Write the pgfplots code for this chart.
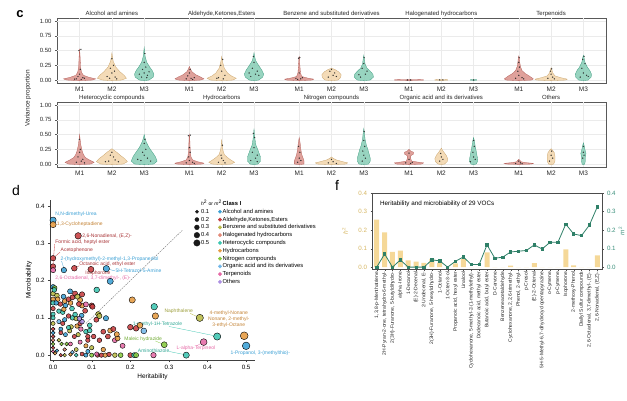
\documentclass[border=0pt]{standalone}
\usepackage{fontspec}
\setmainfont{Liberation Sans}
\usepackage{pgfplots}
\pgfplotsset{compat=1.18}
\newcommand{\fs}[1]{\fontsize{#1}{#1}\selectfont}
\definecolor{m1f}{HTML}{D9918A}\definecolor{m1d}{HTML}{B4605A}
\definecolor{m2f}{HTML}{F2D5AA}\definecolor{m2d}{HTML}{C9A46E}
\definecolor{m3f}{HTML}{86CDB5}\definecolor{m3d}{HTML}{3E9C80}
\definecolor{cA}{HTML}{3A9FD4}\definecolor{cB}{HTML}{C63C3F}
\definecolor{cC}{HTML}{B8BA45}\definecolor{cD}{HTML}{E38A78}
\definecolor{cE}{HTML}{3CC5B1}\definecolor{cF}{HTML}{E59A40}
\definecolor{cG}{HTML}{85C93E}\definecolor{cH}{HTML}{72B7E8}
\definecolor{cI}{HTML}{E56AA6}\definecolor{cJ}{HTML}{AC8FE2}
\definecolor{barc}{HTML}{F5D898}\definecolor{hcol}{HTML}{D6B662}
\definecolor{linec}{HTML}{2F8068}\definecolor{mcol}{HTML}{3B8F7B}
\tikzset{vtitle/.style={anchor=base, font=\fs{6}, text=black!85, inner sep=0pt, yshift=2.2pt}}
\pgfplotsset{
 every axis/.append style={/pgf/number format/assume math mode=true},
 vframe/.style={anchor=south west, scale only axis, width=549pt, height=64.9pt, xmin=0, xmax=1, ymin=-0.05, ymax=1.05,
   xtick=\empty, ytick={0,0.25,0.5,0.75,1}, yticklabels={0.00,0.25,0.50,0.75,1.00}, ytick pos=left,
   axis line style={black!65, line width=0.6pt}, tick align=outside, major tick length=2pt, tick style={black!65},
   yticklabel style={font=\fs{6}, text=black!85}},
 vpanel/.style={anchor=south west, scale only axis, width=109.8pt, height=64.9pt, xmin=0.3, xmax=3.7, ymin=-0.05, ymax=1.05,
   axis line style={draw=none}, xtick={1,2,3}, xticklabels={M1,M2,M3}, ytick={0,0.25,0.5,0.75,1}, yticklabels={{},{},{},{},{}},
   grid=major, major grid style={black!8, line width=0.35pt}, major tick length=0pt, clip mode=individual,
   xticklabel style={font=\fs{6.5}, text=black!85}},
 v1/.style={x filter/.expression={x+1}, fill=m1f, draw=m1d, line width=0.3pt, fill opacity=0.85},
 v2/.style={x filter/.expression={x+2}, fill=m2f, draw=m2d, line width=0.3pt, fill opacity=0.85},
 v3/.style={x filter/.expression={x+3}, fill=m3f, draw=m3d, line width=0.3pt, fill opacity=0.85},
 vpts/.style={only marks, mark=*, mark size=0.45pt, black!85, fill opacity=0.8, draw opacity=0.8},
}
\begin{document}
\begin{tikzpicture}
\path[use as bounding box] (0,0) rectangle (627pt,400pt);
\node[font=\bfseries\fs{13}] at (20pt,386pt) {c};
\node[font=\fs{14}] at (16pt,210pt) {d};
\node[font=\fs{14}] at (337pt,215pt) {f};
\node[rotate=90, font=\fs{6.5}, text=black!85] at (28pt,302pt) {Variance proportion};
% ---------- row 1 ----------
\begin{axis}[vframe, at={(57pt,317pt)}]
\end{axis}
\begin{axis}[vpanel, at={(57pt,317pt)}]
\addplot[v1] coordinates {(0,-0.01)(0.4,0)(0.5,0.02)(0.3,0.045)(0.12,0.08)(0.06,0.13)(0.03,0.22)(0.015,0.4)(0,0.53)(-0.015,0.4)(-0.03,0.22)(-0.06,0.13)(-0.12,0.08)(-0.3,0.045)(-0.5,0.02)(-0.4,0)} --cycle;
\addplot[v2] coordinates {(0,-0.01)(0.3,0)(0.45,0.03)(0.38,0.08)(0.25,0.14)(0.12,0.22)(0.04,0.32)(0.015,0.4)(0,0.46)(-0.015,0.4)(-0.04,0.32)(-0.12,0.22)(-0.25,0.14)(-0.38,0.08)(-0.45,0.03)(-0.3,0)} --cycle;
\addplot[v3] coordinates {(0,-0.01)(0.15,0)(0.28,0.05)(0.3,0.1)(0.25,0.16)(0.17,0.22)(0.08,0.3)(0.03,0.4)(0,0.55)(-0.03,0.4)(-0.08,0.3)(-0.17,0.22)(-0.25,0.16)(-0.3,0.1)(-0.28,0.05)(-0.15,0)} --cycle;
\addplot[vpts] coordinates {(0.9,0.02)(1.05,0.01)(1.1,0.04)(0.95,0.06)(1,0.1)(1.02,0.18)(0.98,0.5)(1.04,0.52)(0.85,0.015)(1.15,0.03)(1.93,0.03)(2.1,0.05)(2,0.12)(1.95,0.2)(2.05,0.25)(2,0.36)(1.85,0.06)(2.15,0.02)(2.08,0.15)(2.92,0.05)(3.1,0.08)(3,0.12)(2.95,0.18)(3.05,0.22)(3,0.3)(3.02,0.45)(2.85,0.1)(3.15,0.14)(3.08,0.04)};
\node[vtitle] at (rel axis cs:0.5,1) {Alcohol and amines};
\end{axis}
\begin{axis}[vpanel, at={(166.8pt,317pt)}]
\addplot[v1] coordinates {(0,-0.01)(0.35,0)(0.45,0.02)(0.35,0.05)(0.2,0.09)(0.08,0.14)(0.03,0.19)(0,0.23)(-0.03,0.19)(-0.08,0.14)(-0.2,0.09)(-0.35,0.05)(-0.45,0.02)(-0.35,0)} --cycle;
\addplot[v2] coordinates {(0,-0.01)(0.35,0)(0.45,0.03)(0.3,0.07)(0.18,0.12)(0.08,0.2)(0.03,0.3)(0,0.4)(-0.03,0.3)(-0.08,0.2)(-0.18,0.12)(-0.3,0.07)(-0.45,0.03)(-0.35,0)} --cycle;
\addplot[v3] coordinates {(0,-0.01)(0.15,0)(0.27,0.05)(0.3,0.1)(0.24,0.17)(0.14,0.25)(0.05,0.33)(0.02,0.4)(0,0.46)(-0.02,0.4)(-0.05,0.33)(-0.14,0.25)(-0.24,0.17)(-0.3,0.1)(-0.27,0.05)(-0.15,0)} --cycle;
\addplot[vpts] coordinates {(0.9,0.02)(1.05,0.03)(1.1,0.01)(0.95,0.07)(1,0.12)(1.02,0.18)(1.15,0.04)(1.9,0.04)(2.05,0.02)(2.1,0.08)(2,0.15)(1.97,0.25)(2.03,0.35)(1.85,0.03)(2.9,0.06)(3.05,0.1)(3.1,0.15)(2.95,0.2)(3,0.3)(2.98,0.4)(3.15,0.08)(2.85,0.12)};
\node[vtitle] at (rel axis cs:0.5,1) {Aldehyde,Ketones,Esters};
\end{axis}
\begin{axis}[vpanel, at={(276.6pt,317pt)}]
\addplot[v1] coordinates {(0,-0.01)(0.4,0)(0.45,0.015)(0.25,0.035)(0.08,0.06)(0.04,0.12)(0.02,0.25)(0.01,0.38)(0,0.4)(-0.01,0.38)(-0.02,0.25)(-0.04,0.12)(-0.08,0.06)(-0.25,0.035)(-0.45,0.015)(-0.4,0)} --cycle;
\addplot[v2] coordinates {(0,-0.01)(0.2,0)(0.28,0.04)(0.3,0.09)(0.22,0.14)(0.1,0.18)(0,0.2)(-0.1,0.18)(-0.22,0.14)(-0.3,0.09)(-0.28,0.04)(-0.2,0)} --cycle;
\addplot[v3] coordinates {(0,-0.01)(0.2,0)(0.3,0.05)(0.28,0.1)(0.2,0.15)(0.1,0.2)(0.04,0.27)(0.02,0.35)(0,0.42)(-0.02,0.35)(-0.04,0.27)(-0.1,0.2)(-0.2,0.15)(-0.28,0.1)(-0.3,0.05)(-0.2,0)} --cycle;
\addplot[vpts] coordinates {(0.95,0.01)(1.05,0.02)(1.1,0.04)(0.9,0.03)(1,0.12)(0.98,0.37)(1.02,0.38)(1.9,0.05)(2.05,0.08)(2.1,0.12)(1.95,0.15)(2,0.18)(2.15,0.06)(2.9,0.05)(3.05,0.1)(3.1,0.15)(2.95,0.2)(3,0.28)(3.01,0.38)(2.85,0.09)};
\node[vtitle] at (rel axis cs:0.5,1) {Benzene and substituted derivatives};
\end{axis}
\begin{axis}[vpanel, at={(386.4pt,317pt)}]
\addplot[v1] coordinates {(0,-0.006)(0.45,-0.002)(0.45,0.006)(0,0.01)(-0.45,0.006)(-0.45,-0.002)} --cycle;
\addplot[v2] coordinates {(0,-0.006)(0.2,-0.002)(0.2,0.006)(0,0.01)(-0.2,0.006)(-0.2,-0.002)} --cycle;
\addplot[v3] coordinates {(0,-0.006)(0.1,-0.002)(0.1,0.006)(0,0.01)(-0.1,0.006)(-0.1,-0.002)} --cycle;
\addplot[vpts] coordinates {(0.95,0.002)(1.05,0.002)(1.95,0.002)(2.05,0.002)(3,0.002)};
\node[vtitle] at (rel axis cs:0.5,1) {Halogenated hydrocarbons};
\end{axis}
\begin{axis}[vpanel, at={(496.2pt,317pt)}]
\addplot[v1] coordinates {(0,-0.01)(0.4,0)(0.45,0.02)(0.32,0.07)(0.2,0.11)(0.1,0.16)(0.05,0.23)(0.03,0.3)(0.015,0.38)(0,0.41)(-0.015,0.38)(-0.03,0.3)(-0.05,0.23)(-0.1,0.16)(-0.2,0.11)(-0.32,0.07)(-0.45,0.02)(-0.4,0)} --cycle;
\addplot[v2] coordinates {(0,-0.01)(0.45,0)(0.5,0.015)(0.3,0.04)(0.12,0.07)(0.05,0.12)(0.02,0.18)(0,0.21)(-0.02,0.18)(-0.05,0.12)(-0.12,0.07)(-0.3,0.04)(-0.5,0.015)(-0.45,0)} --cycle;
\addplot[v3] coordinates {(0,-0.01)(0.15,0)(0.24,0.05)(0.25,0.1)(0.2,0.16)(0.12,0.22)(0.05,0.3)(0.02,0.38)(0,0.42)(-0.02,0.38)(-0.05,0.3)(-0.12,0.22)(-0.2,0.16)(-0.25,0.1)(-0.24,0.05)(-0.15,0)} --cycle;
\addplot[vpts] coordinates {(0.9,0.03)(1.1,0.04)(1,0.08)(0.97,0.15)(1.02,0.22)(1,0.3)(1.01,0.38)(1.15,0.02)(1.9,0.03)(2.05,0.05)(2.1,0.02)(2,0.1)(1.98,0.15)(2.02,0.19)(2.9,0.05)(3.1,0.08)(3,0.12)(2.95,0.2)(3.05,0.28)(2.98,0.35)(3.02,0.4)(3.15,0.06)};
\node[vtitle] at (rel axis cs:0.5,1) {Terpenoids};
\end{axis}
% ---------- row 2 ----------
\begin{axis}[vframe, at={(57pt,233pt)}]
\end{axis}
\begin{axis}[vpanel, at={(57pt,233pt)}]
\addplot[v1] coordinates {(0,-0.01)(0.35,0)(0.45,0.03)(0.3,0.07)(0.18,0.11)(0.12,0.16)(0.08,0.22)(0.04,0.32)(0.015,0.42)(0,0.5)(-0.015,0.42)(-0.04,0.32)(-0.08,0.22)(-0.12,0.16)(-0.18,0.11)(-0.3,0.07)(-0.45,0.03)(-0.35,0)} --cycle;
\addplot[v2] coordinates {(0,-0.01)(0.35,0)(0.48,0.04)(0.4,0.09)(0.28,0.14)(0.15,0.2)(0.05,0.24)(0,0.26)(-0.05,0.24)(-0.15,0.2)(-0.28,0.14)(-0.4,0.09)(-0.48,0.04)(-0.35,0)} --cycle;
\addplot[v3] coordinates {(0,-0.01)(0.3,0)(0.4,0.05)(0.35,0.12)(0.28,0.18)(0.2,0.24)(0.13,0.3)(0.06,0.38)(0.02,0.45)(0,0.5)(-0.02,0.45)(-0.06,0.38)(-0.13,0.3)(-0.2,0.24)(-0.28,0.18)(-0.35,0.12)(-0.4,0.05)(-0.3,0)} --cycle;
\addplot[vpts] coordinates {(0.9,0.03)(1.05,0.05)(1.1,0.08)(0.95,0.12)(1,0.2)(1.02,0.25)(0.99,0.42)(1.15,0.02)(1.9,0.05)(2.1,0.07)(2.05,0.12)(1.95,0.15)(2,0.2)(2.2,0.04)(1.8,0.04)(2.9,0.06)(3.1,0.1)(3,0.15)(2.95,0.2)(3.05,0.25)(3,0.35)(3.02,0.42)(2.8,0.08)(3.2,0.05)};
\node[vtitle] at (rel axis cs:0.5,1) {Heterocyclic compounds};
\end{axis}
\begin{axis}[vpanel, at={(166.8pt,233pt)}]
\addplot[v1] coordinates {(0,-0.01)(0.4,0)(0.45,0.015)(0.25,0.04)(0.1,0.07)(0.05,0.12)(0.03,0.2)(0.02,0.3)(0.01,0.45)(0,0.5)(-0.01,0.45)(-0.02,0.3)(-0.03,0.2)(-0.05,0.12)(-0.1,0.07)(-0.25,0.04)(-0.45,0.015)(-0.4,0)} --cycle;
\addplot[v2] coordinates {(0,-0.01)(0.3,0)(0.4,0.03)(0.28,0.07)(0.18,0.11)(0.08,0.16)(0.03,0.25)(0.01,0.35)(0,0.42)(-0.01,0.35)(-0.03,0.25)(-0.08,0.16)(-0.18,0.11)(-0.28,0.07)(-0.4,0.03)(-0.3,0)} --cycle;
\addplot[v3] coordinates {(0,-0.01)(0.12,0)(0.2,0.05)(0.2,0.12)(0.16,0.18)(0.12,0.24)(0.06,0.32)(0.03,0.42)(0.01,0.52)(0,0.6)(-0.01,0.52)(-0.03,0.42)(-0.06,0.32)(-0.12,0.24)(-0.16,0.18)(-0.2,0.12)(-0.2,0.05)(-0.12,0)} --cycle;
\addplot[vpts] coordinates {(0.9,0.02)(1.1,0.03)(1,0.06)(0.98,0.12)(1.02,0.2)(1,0.28)(0.97,0.48)(1.03,0.49)(1.15,0.01)(1.9,0.03)(2.05,0.06)(2.1,0.02)(2,0.1)(1.98,0.15)(2.02,0.32)(2.9,0.06)(3.05,0.1)(3.1,0.15)(2.95,0.2)(3,0.28)(3.02,0.45)(2.98,0.52)(3.1,0.04)};
\node[vtitle] at (rel axis cs:0.5,1) {Hydrocarbons};
\end{axis}
\begin{axis}[vpanel, at={(276.6pt,233pt)}]
\addplot[v1] coordinates {(0,-0.01)(0.15,0)(0.15,0.05)(0.12,0.1)(0.08,0.16)(0.05,0.25)(0.03,0.35)(0,0.45)(-0.03,0.35)(-0.05,0.25)(-0.08,0.16)(-0.12,0.1)(-0.15,0.05)(-0.15,0)} --cycle;
\addplot[v2] coordinates {(0,-0.01)(0.45,0)(0.5,0.02)(0.35,0.04)(0.15,0.07)(0.04,0.1)(0,0.12)(-0.04,0.1)(-0.15,0.07)(-0.35,0.04)(-0.5,0.02)(-0.45,0)} --cycle;
\addplot[v3] coordinates {(0,-0.01)(0.15,0)(0.2,0.05)(0.2,0.1)(0.17,0.16)(0.13,0.24)(0.08,0.32)(0.04,0.42)(0.02,0.52)(0,0.6)(-0.02,0.52)(-0.04,0.42)(-0.08,0.32)(-0.13,0.24)(-0.17,0.16)(-0.2,0.1)(-0.2,0.05)(-0.15,0)} --cycle;
\addplot[vpts] coordinates {(0.95,0.03)(1.05,0.06)(1,0.1)(1.02,0.2)(0.98,0.3)(1.9,0.02)(2.05,0.04)(2.15,0.01)(2,0.08)(2.95,0.05)(3.05,0.1)(3,0.15)(2.97,0.22)(3.03,0.3)(3,0.4)(3.01,0.55)};
\node[vtitle] at (rel axis cs:0.5,1) {Nitrogen compounds};
\end{axis}
\begin{axis}[vpanel, at={(386.4pt,233pt)}]
\addplot[v1] coordinates {(0,-0.01)(0.4,0)(0.45,0.02)(0.25,0.035)(0.08,0.05)(0.05,0.1)(0.05,0.14)(0.14,0.17)(0.14,0.2)(0.05,0.22)(0,0.25)(-0.05,0.22)(-0.14,0.2)(-0.14,0.17)(-0.05,0.14)(-0.05,0.1)(-0.08,0.05)(-0.25,0.035)(-0.45,0.02)(-0.4,0)} --cycle;
\addplot[v2] coordinates {(0,-0.01)(0.1,0)(0.18,0.04)(0.2,0.09)(0.15,0.15)(0.08,0.2)(0.03,0.24)(0,0.27)(-0.03,0.24)(-0.08,0.2)(-0.15,0.15)(-0.2,0.09)(-0.18,0.04)(-0.1,0)} --cycle;
\addplot[v3] coordinates {(0,-0.01)(0.08,0)(0.13,0.05)(0.12,0.1)(0.1,0.16)(0.08,0.22)(0.05,0.3)(0.03,0.38)(0,0.45)(-0.03,0.38)(-0.05,0.3)(-0.08,0.22)(-0.1,0.16)(-0.12,0.1)(-0.13,0.05)(-0.08,0)} --cycle;
\addplot[vpts] coordinates {(0.9,0.02)(1.05,0.01)(1.1,0.03)(1,0.08)(1,0.185)(1.95,0.05)(2.05,0.08)(2,0.12)(1.98,0.18)(2.9,0.04)(3.05,0.08)(3,0.12)(2.98,0.2)(3.02,0.3)(3,0.4)};
\node[vtitle] at (rel axis cs:0.5,1) {Organic acid and its derivatives};
\end{axis}
\begin{axis}[vpanel, at={(496.2pt,233pt)}]
\addplot[v1] coordinates {(0,-0.006)(0.4,0)(0.45,0.012)(0.2,0.025)(0.06,0.04)(0.04,0.06)(0,0.08)(-0.04,0.06)(-0.06,0.04)(-0.2,0.025)(-0.45,0.012)(-0.4,0)} --cycle;
\addplot[v2] coordinates {(0,-0.01)(0.08,0)(0.12,0.05)(0.12,0.13)(0.1,0.19)(0.05,0.23)(0,0.26)(-0.05,0.23)(-0.1,0.19)(-0.12,0.13)(-0.12,0.05)(-0.08,0)} --cycle;
\addplot[v3] coordinates {(0,-0.01)(0.04,0)(0.06,0.05)(0.06,0.12)(0.08,0.18)(0.05,0.24)(0.03,0.3)(0,0.36)(-0.03,0.3)(-0.05,0.24)(-0.08,0.18)(-0.06,0.12)(-0.06,0.05)(-0.04,0)} --cycle;
\addplot[vpts] coordinates {(0.9,0.01)(1.05,0.02)(1.1,0.005)(1,0.05)(1.95,0.05)(2.05,0.1)(2,0.15)(2.02,0.22)(2.98,0.1)(3.02,0.15)(3,0.2)(3,0.3)};
\node[vtitle] at (rel axis cs:0.5,1) {Others};
\end{axis}
% ---------- panel d ----------
\begin{axis}[at={(50pt,40pt)}, anchor=south west, scale only axis, width=205pt, height=160pt,
 xmin=-0.008, xmax=0.523, ymin=-0.013, ymax=0.416,
 axis x line*=bottom, axis y line*=left, axis line style={black!75, line width=0.5pt},
 xtick={0,0.1,0.2,0.3,0.4,0.5}, ytick={0,0.1,0.2,0.3,0.4},
 tick align=outside, major tick length=2pt, tick style={black!75},
 ticklabel style={font=\fs{6.2}, /pgf/number format/fixed, /pgf/number format/fixed zerofill, /pgf/number format/precision=1},
 xlabel={Heritability}, ylabel={Microbiability}, label style={font=\fs{6.5}},
 xlabel style={yshift=3pt}, ylabel style={yshift=-3pt},
 clip=false,
 legend style={at={(0.82,1.0)}, anchor=north west, draw=none, fill=none, font=\fs{5.8}, inner sep=0pt,
   nodes={text height=4.3pt, text depth=1.2pt, inner sep=1pt}, row sep=0.3pt},
 legend cell align=left,
 legend image code/.code={\draw[#1] plot coordinates {(1pt,0pt)};}]
\addlegendimage{empty legend}\addlegendentry{\textbf{Class I}}
\addlegendimage{only marks, mark=*, mark size=1.7pt, cA, draw=none}\addlegendentry{Alcohol and amines}
\addlegendimage{only marks, mark=*, mark size=1.7pt, cB, draw=none}\addlegendentry{Aldehyde,Ketones,Esters}
\addlegendimage{only marks, mark=*, mark size=1.7pt, cC, draw=none}\addlegendentry{Benzene and substituted derivatives}
\addlegendimage{only marks, mark=*, mark size=1.7pt, cD, draw=none}\addlegendentry{Halogenated hydrocarbons}
\addlegendimage{only marks, mark=*, mark size=1.7pt, cE, draw=none}\addlegendentry{Heterocyclic compounds}
\addlegendimage{only marks, mark=*, mark size=1.7pt, cF, draw=none}\addlegendentry{Hydrocarbons}
\addlegendimage{only marks, mark=*, mark size=1.7pt, cG, draw=none}\addlegendentry{Nitrogen compounds}
\addlegendimage{only marks, mark=*, mark size=1.7pt, cH, draw=none}\addlegendentry{Organic acid and its derivatives}
\addlegendimage{only marks, mark=*, mark size=1.7pt, cI, draw=none}\addlegendentry{Terpenoids}
\addlegendimage{only marks, mark=*, mark size=1.7pt, cJ, draw=none}\addlegendentry{Others}
\addplot[dash pattern=on 1.5pt off 1pt, black!55, line width=0.4pt, forget plot] coordinates {(0.085,0.085)(0.335,0.335)};
\addplot[scatter, only marks, forget plot, scatter src=explicit symbolic, mark options={draw=none},
  scatter/classes={A={mark=*,fill=cA,draw=none}, B={mark=*,fill=cB,draw=none}, C={mark=*,fill=cC,draw=none},
   D={mark=*,fill=cD,draw=none}, E={mark=*,fill=cE,draw=none}, F={mark=*,fill=cF,draw=none},
   G={mark=*,fill=cG,draw=none}, H={mark=*,fill=cH,draw=none}, I={mark=*,fill=cI,draw=none}, J={mark=*,fill=cJ,draw=none}},
  visualization depends on={1.7+4*(\thisrow{h}+\thisrow{m}) \as \msz},
  scatter/@pre marker code/.append style={/tikz/mark size=\msz},
  fill opacity=0.88]
 table[x=h, y=m, meta=c] {
h m c
0.000 0.165 C
0.000 0.150 F
0.000 0.140 E
0.000 0.125 B
0.000 0.110 E
0.000 0.100 E
0.000 0.085 C
0.000 0.070 B
0.000 0.060 A
0.000 0.050 B
0.000 0.040 D
0.000 0.030 G
0.000 0.020 B
0.000 0.010 I
0.005 0.005 F
0.010 0.012 A
0.020 0.000 B
0.030 0.000 C
0.045 0.002 F
0.060 0.000 E
0.075 0.003 B
0.085 0.000 A
0.100 0.000 G
0.115 0.000 B
0.125 0.000 B
0.135 0.000 F
0.145 0.002 B
0.160 0.000 C
0.175 0.000 G
0.200 0.000 B
0.210 0.000 E
0.215 0.000 G
0.113 0.003 I
0.260 0.000 I
0.090 0.010 A
0.060 0.015 C
0.030 0.015 D
0.050 0.008 H
0.015 0.090 H
0.025 0.085 B
0.030 0.095 A
0.100 0.020 C
0.130 0.015 F
0.085 0.025 F
0.065 0.055 C
0.020 0.070 A
0.047 0.076 C
0.072 0.070 I
0.085 0.063 E
0.130 0.063 B
0.148 0.066 F
0.160 0.040 I
0.120 0.040 B
0.090 0.050 B
0.105 0.050 B
0.090 0.040 B
0.070 0.035 I
0.055 0.050 B
0.043 0.065 C
0.032 0.055 A
0.020 0.060 B
0.015 0.040 C
0.022 0.030 G
0.035 0.030 G
0.045 0.030 I
0.180 0.025 I
0.142 0.050 B
0.167 0.045 F
0.165 0.056 F
0.156 0.070 B
0.200 0.075 B
0.215 0.072 B
0.225 0.080 F
0.235 0.065 H
0.010 0.160 C
0.012 0.150 F
0.008 0.140 A
0.030 0.145 F
0.045 0.140 F
0.000 0.183 A
0.004 0.180 G
0.003 0.175 E
0.027 0.157 A
0.057 0.165 B
0.032 0.133 A
0.075 0.133 F
0.100 0.133 B
0.074 0.106 A
0.117 0.110 C
0.050 0.100 E
0.060 0.098 C
0.025 0.115 E
0.040 0.074 E
0.095 0.080 E
0.095 0.066 E
0.112 0.095 B
0.062 0.078 F
0.070 0.085 B
0.075 0.090 J
0.068 0.098 J
0.057 0.109 E
0.049 0.125 E
0.040 0.105 B
0.028 0.123 F
0.015 0.118 E
0.019 0.137 B
0.070 0.148 F
0.063 0.157 C
0.050 0.155 B
0.040 0.150 B
0.044 0.171 A
0.075 0.163 B
0.067 0.137 B
0.085 0.136 I
0.083 0.119 B
0.102 0.130 B
0.137 0.099 A
0.120 0.105 C
0.113 0.175 E
0.205 0.148 F
0.262 0.130 E
0.265 0.105 F
0.148 0.198 A
0.000 0.362 A
0.000 0.350 F
0.065 0.320 B
0.000 0.260 B
0.000 0.238 B
0.000 0.228 I
0.028 0.228 A
0.055 0.233 B
0.098 0.230 B
0.138 0.232 A
0.380 0.100 C
0.495 0.052 F
0.425 0.050 E
0.288 0.028 G
0.390 0.035 I
0.345 0.000 E
0.500 0.025 A
};
\begin{scope}[every node/.style={font=\fs{5}, inner sep=0.5pt}]
\node[anchor=west, text=cA] at (axis cs:0.004,0.378) {N,N-dimethyl-Urea};
\node[anchor=west, text=cF!85!black] at (axis cs:0.008,0.350) {1,3-Cycloheptadiene};
\node[anchor=west, text=cB!85!black] at (axis cs:0.074,0.320) {2,6-Nonadienal, (E,Z)-};
\node[anchor=west, text=cB!85!black] at (axis cs:0.004,0.303) {Formic acid, heptyl ester};
\draw[cB, line width=0.3pt] (axis cs:0.004,0.298) -- (axis cs:0.0,0.245);
\node[anchor=west, text=cB!85!black] at (axis cs:0.018,0.281) {Acetophenone};
\draw[cB, line width=0.3pt] (axis cs:0.018,0.276) -- (axis cs:0.002,0.262);
\node[anchor=west, text=cA] at (axis cs:0.018,0.258) {2-(hydroxymethyl)-2-methyl-1,3-Propanediol};
\draw[cA, line width=0.3pt] (axis cs:0.022,0.252) -- (axis cs:0.027,0.236);
\node[anchor=west, text=cB!85!black] at (axis cs:0.066,0.244) {Octanoic acid, ethyl ester};
\draw[cB, line width=0.3pt] (axis cs:0.068,0.240) -- (axis cs:0.058,0.234);
\node[anchor=west, text=cB!85!black] at (axis cs:0.082,0.219) {Isophorone};
\node[anchor=west, text=cA] at (axis cs:0.16,0.226) {5H-Tetrazol-5-Amine};
\draw[cA, line width=0.3pt] (axis cs:0.145,0.230) -- (axis cs:0.16,0.226);
\node[anchor=west, text=cI] at (axis cs:0.004,0.206) {2,6-Octadienal, 3,7-dimethyl-, (E)-};
\node[anchor=east, text=cC!85!black] at (axis cs:0.364,0.118) {Naphthalene};
\draw[cC, line width=0.3pt] (axis cs:0.355,0.112) -- (axis cs:0.378,0.101);
\node[align=center, text=cF!85!black] at (axis cs:0.455,0.097) {4-methyl-Nonane\\[0.8pt]Nonane, 2-methyl-\\[0.8pt]3-ethyl-Octane};
\node[anchor=west, text=cE!85!black] at (axis cs:0.205,0.083) {1-methyl-1H-Tetrazole};
\draw[cE, line width=0.3pt] (axis cs:0.30,0.077) -- (axis cs:0.423,0.051);
\node[anchor=west, text=cG!85!black] at (axis cs:0.183,0.043) {Maleic hydrazide};
\draw[cG, line width=0.3pt] (axis cs:0.265,0.038) -- (axis cs:0.286,0.029);
\node[anchor=west, text=cI] at (axis cs:0.318,0.019) {L-alpha-Terpineol};
\draw[cI, line width=0.3pt] (axis cs:0.37,0.024) -- (axis cs:0.388,0.034);
\node[anchor=west, text=cE!85!black] at (axis cs:0.218,0.013) {Aminothiazole};
\draw[cE, line width=0.3pt] (axis cs:0.300,0.010) -- (axis cs:0.343,0.001);
\node[anchor=west, text=cA] at (axis cs:0.458,0.006) {1-Propanol, 3-(methylthio)-};
\end{scope}
\end{axis}
% size legend
\begin{axis}[at={(50pt,40pt)}, anchor=south west, scale only axis, width=205pt, height=160pt,
 xmin=0, xmax=1, ymin=0, ymax=1, hide axis,
 legend style={at={(0.70,1.0)}, anchor=north west, draw=none, fill=none, font=\fs{5.8}, inner sep=0pt,
   nodes={text height=4.3pt, text depth=1.2pt, inner sep=1pt}, row sep=0.3pt},
 legend cell align=left,
 legend image code/.code={\draw[#1] plot coordinates {(0pt,0pt)};}]
\addlegendimage{empty legend}\addlegendentry{\fs{5}\textit{h}\textsuperscript{2} or \textit{m}\textsuperscript{2}}
\addlegendimage{only marks, mark=*, mark size=1.6pt, black!90}\addlegendentry{0.1}
\addlegendimage{only marks, mark=*, mark size=2.0pt, black!90}\addlegendentry{0.2}
\addlegendimage{only marks, mark=*, mark size=2.4pt, black!90}\addlegendentry{0.3}
\addlegendimage{only marks, mark=*, mark size=2.8pt, black!90}\addlegendentry{0.4}
\addlegendimage{only marks, mark=*, mark size=3.2pt, black!90}\addlegendentry{0.5}
\end{axis}
% ---------- panel f ----------
\begin{axis}[at={(372pt,131pt)}, anchor=south west, scale only axis, width=230pt, height=76pt,
 xmin=-0.6, xmax=28.6, ymin=-0.01, ymax=0.4, clip mode=individual,
 axis line style={black!70, line width=0.5pt}, ytick={0,0.1,0.2,0.3,0.4}, ytick pos=left,
 yticklabel style={font=\fs{6.2}, text=hcol, /pgf/number format/fixed, /pgf/number format/fixed zerofill, /pgf/number format/precision=1},
 xtick={0,...,28}, xtick pos=bottom,
 xticklabels={{1,3,8-p-Menthatriene},{2H-Pyran-2-one, tetrahydro-6-methyl-},{2(3H)-Furanone, 5-butyldihydro-},{alpha.-Irone},{1-Decanol},{(E)-2-Decenal},{2-Undecenal, E-},{2(3H)-Furanone, 5-hexyldihydro-},{1-Octanol},{1-Octen-3-ol},{Propanoic acid, hexyl ester},{Linalool},{Cyclohexanone, 5-methyl-2-(1-methylethyl)-},{Dodecanoic acid, methyl ester},{Butanoic acid, butyl ester},{D-Carvone},{Benzeneacetaldehyde},{Cyclohexanone, 2,2,6-trimethyl-},{Phenol, 2-ethyl-},{p-Cresol},{(E)-2-Octenal},{5H-5-Methyl-6,7-dihydrocyclopentapyrazine},{o-Cymene},{p-Cymene},{Isophorone},{2-methoxy-Phenol},{Diallyl Sulfur compounds},{2,6-Octadienal, 3,7-dimethyl-, (E)-},{2,6-Nonadienal, (E,Z)-}},
 xticklabel style={rotate=90, anchor=east, font=\fs{5}, inner sep=1pt, text=black!85},
 tick align=outside, major tick length=1.5pt, tick style={black!70}]
\addplot[ybar, bar width=5pt, bar shift=0pt, fill=barc, draw=none] coordinates {(0,0.257)(1,0.187)(2,0.082)(3,0.089)(4,0.037)(5,0.030)(6,0.023)(7,0.045)(8,0.025)(9,0)(10,0.020)(11,0.045)(12,0)(13,0)(14,0.080)(15,0)(16,0)(17,0.008)(18,0)(19,0)(20,0.022)(21,0)(22,0)(23,0)(24,0.096)(25,0.010)(26,0)(27,0)(28,0.064)};
\node[anchor=west, font=\fs{6.3}] at (rel axis cs:0.02,0.855) {Heritability and microbiability of 29 VOCs};
\node[rotate=90, font=\fs{6.5}, text=hcol] at (rel axis cs:-0.117,0.5) {\textit{h}\textsuperscript{2}};
\node[rotate=90, font=\fs{6.5}, text=mcol] at (rel axis cs:1.085,0.5) {\textit{m}\textsuperscript{2}};
\end{axis}
\begin{axis}[at={(372pt,131pt)}, anchor=south west, scale only axis, width=230pt, height=76pt,
 xmin=-0.6, xmax=28.6, ymin=-0.01, ymax=0.4, hide x axis, axis y line*=right,
 axis line style={black!70, line width=0.5pt}, ytick={0,0.1,0.2,0.3,0.4},
 yticklabel style={font=\fs{6.2}, text=mcol, /pgf/number format/fixed, /pgf/number format/fixed zerofill, /pgf/number format/precision=1},
 tick align=outside, major tick length=1.5pt, tick style={black!70}]
\addplot[linec, line width=0.8pt, mark=square*, mark size=1.2pt] coordinates {(0,0)(1,0.071)(2,0)(3,0.039)(4,0)(5,0)(6,0)(7,0.039)(8,0.034)(9,0)(10,0.032)(11,0.055)(12,0.014)(13,0.014)(14,0.120)(15,0.048)(16,0.054)(17,0.082)(18,0.086)(19,0.090)(20,0.120)(21,0.098)(22,0.134)(23,0.134)(24,0.232)(25,0.179)(26,0.170)(27,0.227)(28,0.325)};
\end{axis}
\end{tikzpicture}
\end{document}
